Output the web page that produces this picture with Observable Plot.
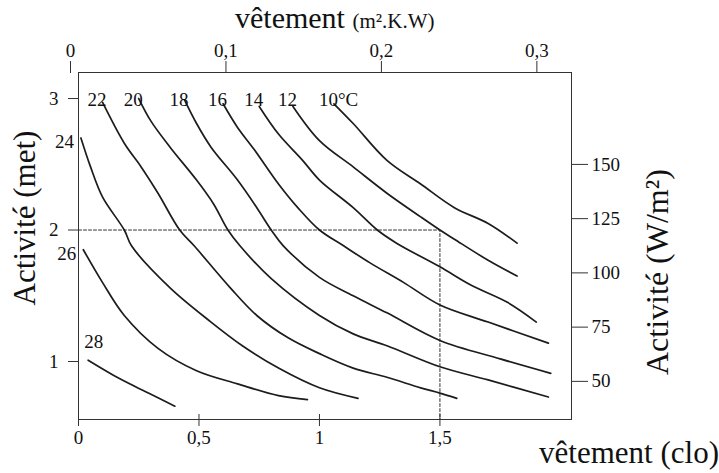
<!DOCTYPE html>
<html>
<head>
<meta charset="utf-8">
<script src="https://cdn.jsdelivr.net/npm/d3@7"></script>
<script src="https://cdn.jsdelivr.net/npm/@observablehq/plot@0.6"></script>
<style>
  html, body { margin: 0; padding: 0; background: #fff; }
  #chart { width: 719px; height: 473px; }
  #chart svg text { font-family: 'Liberation Serif', 'DejaVu Serif', serif; }
</style>
</head>
<body>
<div id="chart"></div>
<script>
// ---- Data ----
// Temperatures of the comfort curves (°C)
const temps = [10, 12, 14, 16, 18, 20, 22, 24, 26, 28];
// Each curve: [clo, met] points
const c10 = [[1.06,2.96],[1.14,2.81],[1.28,2.53],[1.42,2.35],[1.56,2.17],[1.70,2.05],[1.82,1.90]];
const c12 = [[0.89,2.94],[1.00,2.68],[1.14,2.48],[1.28,2.28],[1.42,2.10],[1.50,2.00],[1.56,1.93],[1.70,1.77],[1.82,1.65]];
const c14 = [[0.75,2.94],[0.83,2.73],[0.93,2.53],[1.00,2.38],[1.14,2.17],[1.24,2.00],[1.32,1.90],[1.50,1.72],[1.63,1.58],[1.78,1.45],[1.90,1.30]];
const c16 = [[0.60,2.96],[0.66,2.78],[0.73,2.61],[0.83,2.35],[0.91,2.17],[1.00,2.00],[1.10,1.88],[1.21,1.75],[1.35,1.60],[1.50,1.43],[1.70,1.30],[1.95,1.14]];
const c18 = [[0.44,2.99],[0.49,2.81],[0.55,2.63],[0.66,2.38],[0.74,2.17],[0.80,2.00],[0.85,1.88],[1.00,1.64],[1.14,1.50],[1.28,1.37],[1.50,1.16],[1.75,1.02],[1.96,0.91]];
const c20 = [[0.25,3.00],[0.30,2.83],[0.38,2.63],[0.49,2.38],[0.56,2.20],[0.62,2.00],[0.67,1.88],[0.80,1.63],[1.00,1.35],[1.14,1.21],[1.28,1.12],[1.50,0.96],[1.70,0.86],[1.95,0.73]];
const c22 = [[0.10,2.97],[0.19,2.66],[0.26,2.48],[0.33,2.28],[0.42,2.00],[0.48,1.88],[0.63,1.56],[0.74,1.35],[0.87,1.18],[1.00,1.06],[1.14,0.95],[1.28,0.88],[1.42,0.80],[1.50,0.76],[1.57,0.72]];
const c24 = [[0.01,2.70],[0.05,2.48],[0.10,2.25],[0.19,2.00],[0.22,1.88],[0.38,1.56],[0.55,1.30],[0.68,1.12],[0.83,0.95],[1.00,0.80],[1.16,0.72]];
const c26 = [[0.02,1.85],[0.10,1.60],[0.19,1.35],[0.33,1.10],[0.49,0.93],[0.66,0.83],[0.83,0.74],[0.95,0.71]];
const c28 = [[0.04,1.01],[0.17,0.87],[0.29,0.76],[0.40,0.66]];
const curves = [c10, c12, c14, c16, c18, c20, c22, c24, c26, c28];

// Axis ticks
const cloTicks = [0, 0.5, 1, 1.5];
const cloLabels = ["0", "0,5", "1", "1,5"];
const resTicks = [0, 0.1, 0.2, 0.3];          // m².K/W
const resLabels = ["0", "0,1", "0,2", "0,3"];
const metTicks = [1, 2, 3];
const metLabels = ["1", "2", "3"];
const wTicks = [50, 75, 100, 125, 150];        // W/m²
const wLabels = ["50", "75", "100", "125", "150"];

// Example reading (dashed guide): 2 met, 1.5 clo
const exampleMet = 2;
const exampleClo = 1.5;

// Scale conversions as drawn in the figure
const cloPerRes = 1 / 0.155;                          // 1 clo = 0.155 m².K/W
const wToMet = w => 1.674 + (w - 100) * 0.0165;       // right axis as printed

// ---- Build tables ----
const rows = curves.flatMap((c, i) => c.map(([clo, met]) => ({t: temps[i], clo, met})));
const firsts = curves.map((c, i) => ({t: temps[i], clo: c[0][0], met: c[0][1],
  label: temps[i] === 10 ? "10°C" : String(temps[i])}));
const topGroup = firsts.filter(d => d.t <= 22);
const leftGroup = firsts.filter(d => d.t === 24 || d.t === 26);
const lowGroup = firsts.filter(d => d.t === 28);

const xMin = 0, xMax = 2.046, yMin = 0.559, yMax = 3.198;

const lookup = (vals, labels) => d => {
  const i = vals.findIndex(v => Math.abs(v - d) < 1e-9);
  return i < 0 ? "" : labels[i];
};

const topPos = resTicks.map(v => v * cloPerRes);
const rightPos = wTicks.map(wToMet);

const guide = [
  {clo: xMin, met: exampleMet},
  {clo: exampleClo, met: exampleMet},
  {clo: exampleClo, met: yMin}
];

const serif = "'Liberation Serif', 'DejaVu Serif', serif";

const chart = Plot.plot({
  width: 719,
  height: 473,
  marginLeft: 78,
  marginRight: 148,
  marginTop: 72,
  marginBottom: 54,
  style: {fontFamily: serif, fontSize: "19px", background: "#fff", color: "#111"},
  x: {domain: [xMin, xMax]},
  y: {domain: [yMin, yMax]},
  marks: [
    Plot.line(guide, {x: "clo", y: "met", stroke: "#333", strokeWidth: 1, strokeDasharray: "3,2"}),
    Plot.line(rows, {x: "clo", y: "met", z: "t", stroke: "#1c1c1c", strokeWidth: 1.7, curve: "catmull-rom"}),
    Plot.frame({stroke: "#333", strokeWidth: 1}),
    Plot.axisX({anchor: "bottom", ticks: cloTicks, tickFormat: lookup(cloTicks, cloLabels), tickSize: 7, tickPadding: 4, label: null, fontSize: 19, fontFamily: serif, stroke: "#333"}),
    Plot.axisX({anchor: "bottom", ticks: cloTicks, tickFormat: () => "", tickSize: -5, label: null, stroke: "#333"}),
    Plot.axisX({anchor: "top", ticks: topPos, tickFormat: lookup(topPos, resLabels), tickSize: 12, tickPadding: 4, dx: -8, label: null, fontSize: 19, fontFamily: serif, stroke: "#333"}),
    Plot.axisY({anchor: "left", ticks: metTicks, tickFormat: lookup(metTicks, metLabels), tickSize: 10, tickPadding: 10, label: null, fontSize: 19, fontFamily: serif, stroke: "#333"}),
    Plot.axisY({anchor: "right", ticks: rightPos, tickFormat: lookup(rightPos, wLabels), tickSize: 16, tickPadding: 4, label: null, fontSize: 19, fontFamily: serif, stroke: "#333"}),
    Plot.text(topGroup, {x: "clo", frameAnchor: "top", text: "label", textAnchor: "start", dx: -15, dy: 20, fontSize: 19, fontFamily: serif, fill: "#111"}),
    Plot.text(leftGroup, {x: "clo", y: "met", text: "label", textAnchor: "end", dx: -7, dy: 4, fontSize: 19, fontFamily: serif, fill: "#111"}),
    Plot.text(lowGroup, {x: "clo", y: "met", text: "label", textAnchor: "start", dx: -4, dy: -18, fontSize: 19, fontFamily: serif, fill: "#111"})
  ]
});

document.getElementById("chart").appendChild(chart);

// ---- Titles ----
const svgSel = d3.select(chart);
const topTitle = svgSel.append("text").attr("x", 235).attr("y", 28).attr("text-anchor", "start")
  .attr("font-family", serif).attr("fill", "#111");
topTitle.append("tspan").attr("font-size", 30).text("vêtement ");
topTitle.append("tspan").attr("font-size", 21).text("(m².K.W)");

svgSel.append("text").attr("x", 719).attr("y", 463).attr("text-anchor", "end")
  .attr("font-family", serif).attr("font-size", 31).attr("fill", "#111")
  .text("vêtement (clo)");

svgSel.append("text").attr("transform", "translate(35,218) rotate(-90)").attr("text-anchor", "middle")
  .attr("font-family", serif).attr("font-size", 31).attr("fill", "#111")
  .text("Activité (met)");

svgSel.append("text").attr("transform", "translate(668,272) rotate(-90)").attr("text-anchor", "middle")
  .attr("font-family", serif).attr("font-size", 32).attr("fill", "#111")
  .text("Activité (W/m²)");
</script>
</body>
</html>
